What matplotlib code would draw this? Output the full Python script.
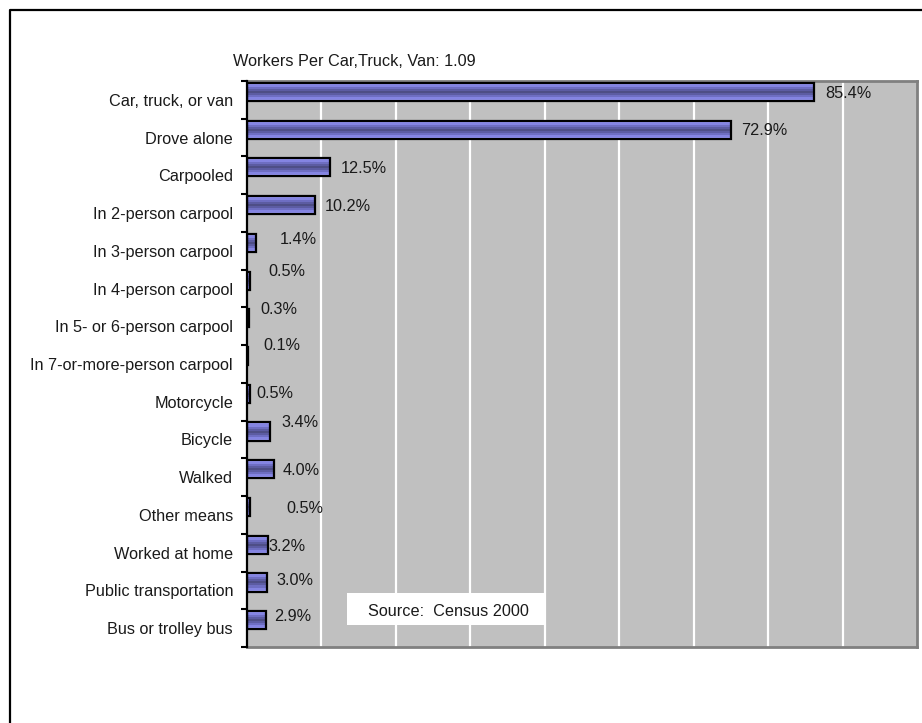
import matplotlib
matplotlib.use("Agg")
import matplotlib.pyplot as plt
import numpy as np
from matplotlib.patches import Rectangle
from matplotlib.lines import Line2D

categories = [
    "Car, truck, or van",
    "Drove alone",
    "Carpooled",
    "In 2-person carpool",
    "In 3-person carpool",
    "In 4-person carpool",
    "In 5- or 6-person carpool",
    "In 7-or-more-person carpool",
    "Motorcycle",
    "Bicycle",
    "Walked",
    "Other means",
    "Worked at home",
    "Public transportation",
    "Bus or trolley bus",
]
values = [85.4, 72.9, 12.5, 10.2, 1.4, 0.5, 0.3, 0.1, 0.5, 3.4, 4.0, 0.5, 3.2, 3.0, 2.9]
value_labels = [f"{v:.1f}%" for v in values]
title_text = "Workers Per Car,Truck, Van: 1.09"
source_text = "Source:  Census 2000"

# label nudges in pixels (dx from bar end, dy from bar centre; +dy = down)
label_dx = [12, 11, 11, 10, 23, 18, 11, 16, 6, 12, 9, 36, 0, 10, 8]
label_dy = [0, 0, 0, 0, -5, -10, -10, -12, -2, -10, 0, 0, 0, -3, -5]

W, H = 922, 723
DPI = 100
PX = 72.0 / DPI  # points per pixel
FS = 11.7

plt.rcParams["font.family"] = ["Liberation Sans", "DejaVu Sans"]

fig = plt.figure(figsize=(W / DPI, H / DPI), dpi=DPI)
fig.patch.set_facecolor("white")

ax_l, ax_r, ax_t, ax_b = 247, 917, 81, 647
ax = fig.add_axes([ax_l / W, 1 - ax_b / H, (ax_r - ax_l) / W, (ax_b - ax_t) / H])
ax.set_facecolor("#C0C0C0")

XMAX = 101.0
n = len(categories)
ax.set_xlim(0, XMAX)
ax.set_ylim(n - 0.5, -0.5)

# gridlines
for gx in np.linspace(0, XMAX, 10)[1:-1]:
    ax.axvline(gx, color="white", lw=1.6, zorder=1)

# bars with horizontal banded gradient
stripe_colors = ["#9696F6", "#8484E2", "#6E6EC2", "#5C5CA2", "#4E4E86",
                 "#5C5CA2", "#6E6EC2", "#8484E2", "#9696F6"]
bh = 0.48
ns = len(stripe_colors)
ypos = np.arange(n)
centers = ypos - 0.21
for k, c in enumerate(stripe_colors):
    yk = centers - bh / 2 + (k + 0.5) * bh / ns
    ax.barh(yk, values, height=bh / ns, left=0, color=c, lw=0, zorder=2)
ax.barh(centers, values, height=bh, left=0, facecolor="none",
        edgecolor="black", lw=1.6, zorder=3)

# value labels
for i, (v, lab) in enumerate(zip(values, value_labels)):
    ax.annotate(lab, xy=(v, centers[i]),
                xytext=(label_dx[i] * PX, -(label_dy[i] + 5.8) * PX),
                textcoords="offset points", ha="left", va="baseline",
                fontsize=FS, color="#1a1a1a", zorder=5)

# axes styling
ax.set_xticks([])
ax.set_yticks(ypos)
ax.set_yticklabels(categories, fontsize=FS, color="#1a1a1a")
ax.tick_params(axis="y", which="major", length=0, pad=14 * PX)
ax.set_yticks(np.arange(n + 1) - 0.5, minor=True)
ax.tick_params(axis="y", which="minor", length=6 * PX, width=1.5, color="black",
               direction="out")
for s in ["top", "right", "bottom"]:
    ax.spines[s].set_color("#808080")
    ax.spines[s].set_linewidth(2.0)
ax.spines["left"].set_color("black")
ax.spines["left"].set_linewidth(1.6)
ax.spines["left"].set_zorder(6)

# title
fig.text(233 / W, 1 - 66.5 / H, title_text, ha="left", va="baseline",
         fontsize=FS, color="#1a1a1a")

# source box
fig.patches.append(Rectangle((347 / W, 1 - 625 / H), (544 - 347) / W, (625 - 593) / H,
                             transform=fig.transFigure, facecolor="white",
                             edgecolor="none", zorder=4))
fig.text(368 / W, 1 - 616 / H, source_text, ha="left", va="baseline",
         fontsize=FS, color="#1a1a1a", zorder=5)

# outer frame (only top and left visible)
fig.lines.append(Line2D([10 / W, 10 / W, 1.0], [0.0, 1 - 10 / H, 1 - 10 / H],
                        transform=fig.transFigure, color="black", lw=1.6))

fig.savefig("out.png", dpi=DPI)
